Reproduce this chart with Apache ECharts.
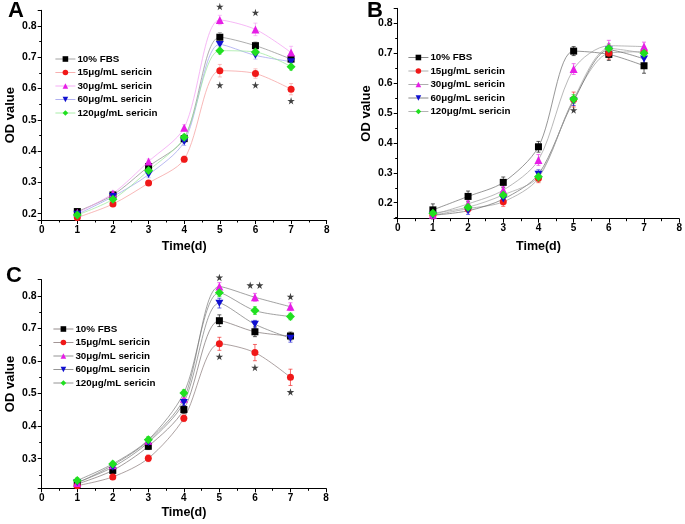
<!DOCTYPE html>
<html><head><meta charset="utf-8">
<script src="https://cdn.jsdelivr.net/npm/echarts@6/dist/echarts.min.js"></script>
<style>html,body{margin:0;padding:0;background:#fff}#c{width:685px;height:524px}</style>
</head><body><div id="c"></div>
<script>
// ---------- data ----------
const days = [1, 2, 3, 4, 5, 6, 7];
const seriesNames = ['10% FBS', '15μg/mL sericin', '30μg/mL sericin', '60μg/mL sericin', '120μg/mL sericin'];
const xTickLabels = ['0', '1', '2', '3', '4', '5', '6', '7', '8'];
const yTickLabels = ['0.2', '0.3', '0.4', '0.5', '0.6', '0.7', '0.8'];

// Panel A
const A_fbs  = [0.207, 0.260, 0.351, 0.440, 0.764, 0.737, 0.694];
const A_s15  = [0.188, 0.231, 0.298, 0.374, 0.657, 0.648, 0.598];
const A_s30  = [0.203, 0.265, 0.367, 0.475, 0.819, 0.789, 0.715];
const A_s60  = [0.198, 0.255, 0.325, 0.430, 0.741, 0.706, 0.686];
const A_s120 = [0.196, 0.246, 0.338, 0.444, 0.721, 0.717, 0.670];
const A_err_fbs  = [0.008, 0.008, 0.010, 0.012, 0.015, 0.012, 0.010];
const A_err_s15  = [0.008, 0.008, 0.008, 0.010, 0.020, 0.015, 0.018];
const A_err_s30  = [0.008, 0.008, 0.008, 0.010, 0.015, 0.020, 0.020];
const A_err_s60  = [0.008, 0.008, 0.010, 0.012, 0.015, 0.012, 0.012];
const A_err_s120 = [0.008, 0.008, 0.010, 0.010, 0.012, 0.012, 0.012];
const A_stars = [[5, 0.862], [6, 0.843], [5, 0.611], [6, 0.611], [7, 0.561]];

// Panel B
const B_fbs  = [0.176, 0.221, 0.268, 0.387, 0.707, 0.696, 0.658];
const B_s15  = [0.158, 0.180, 0.203, 0.282, 0.545, 0.700, 0.705];
const B_s30  = [0.160, 0.196, 0.242, 0.343, 0.647, 0.725, 0.722];
const B_s60  = [0.158, 0.173, 0.212, 0.295, 0.540, 0.711, 0.681];
const B_s120 = [0.165, 0.185, 0.226, 0.287, 0.547, 0.716, 0.700];
const B_err_fbs  = [0.020, 0.018, 0.018, 0.018, 0.015, 0.020, 0.025];
const B_err_s15  = [0.012, 0.012, 0.015, 0.015, 0.025, 0.020, 0.015];
const B_err_s30  = [0.012, 0.012, 0.012, 0.018, 0.018, 0.018, 0.015];
const B_err_s60  = [0.012, 0.012, 0.012, 0.015, 0.015, 0.015, 0.015];
const B_err_s120 = [0.012, 0.012, 0.012, 0.015, 0.015, 0.015, 0.012];
const B_stars = [[5, 0.51]];

// Panel C
const C_fbs  = [0.222, 0.264, 0.338, 0.451, 0.724, 0.690, 0.677];
const C_s15  = [0.217, 0.244, 0.301, 0.424, 0.653, 0.626, 0.550];
const C_s30  = [0.225, 0.280, 0.355, 0.484, 0.829, 0.796, 0.767];
const C_s60  = [0.227, 0.274, 0.350, 0.473, 0.778, 0.713, 0.670];
const C_s120 = [0.233, 0.284, 0.358, 0.502, 0.810, 0.755, 0.737];
const C_err_fbs  = [0.008, 0.010, 0.010, 0.012, 0.018, 0.015, 0.012];
const C_err_s15  = [0.008, 0.008, 0.010, 0.010, 0.020, 0.025, 0.025];
const C_err_s30  = [0.008, 0.008, 0.010, 0.010, 0.012, 0.012, 0.012];
const C_err_s60  = [0.008, 0.008, 0.010, 0.010, 0.015, 0.012, 0.012];
const C_err_s120 = [0.008, 0.008, 0.010, 0.010, 0.012, 0.012, 0.010];
const C_stars = [[5, 0.857], [5, 0.614], [6, 0.580], [7, 0.798], [7, 0.505]];
const C_doubleStars = [[6, 0.833]];

// ---------- styles ----------
const FONT = '"Liberation Sans", Arial, sans-serif';
const markColors = ['#000000', '#f01818', '#e61ee6', '#1010d0', '#20e020'];
const lineColorsA = ['#8a8a8a', '#f59a9a', '#f29af2', '#9c9cec', '#96e896'];
const lineColorsB = ['#6a6a6a', '#999999', '#999999', '#6a6a6a', '#a0a0a0'];
const lineColorsC = ['#7a7070', '#8a7a7a', '#7a7a7a', '#7a7a7a', '#7a7a7a'];
const symbols = ['rect', 'circle', 'triangle', 'path://M0,0 L10,0 L5,9 Z', 'diamond'];
const symbolSizes = [7, 7, 8, [8, 7], 9];
const STAR = 'path://M50,0 L61,35 L98,35 L68,57 L79,91 L50,70 L21,91 L32,57 L2,35 L39,35 Z';
const DSTAR = 'path://M50,0 L61,35 L98,35 L68,57 L79,91 L50,70 L21,91 L32,57 L2,35 L39,35 Z M170,0 L181,35 L218,35 L188,57 L199,91 L170,70 L141,91 L152,57 L122,35 L159,35 Z';

const panels = [
  { key: 'A', data: [A_fbs, A_s15, A_s30, A_s60, A_s120],
    err: [A_err_fbs, A_err_s15, A_err_s30, A_err_s60, A_err_s120],
    stars: A_stars, dstars: [], lineColors: lineColorsA,
    grid: { left: 41.7, top: 10.3, width: 285, height: 209.7 }, ymin: 0.18, ymax: 0.85,
    legend: { left: 55, top: 54 }, xNameGap: 20, suffix: '' },
  { key: 'B', data: [B_fbs, B_s15, B_s30, B_s60, B_s120],
    err: [B_err_fbs, B_err_s15, B_err_s30, B_err_s60, B_err_s120],
    stars: B_stars, dstars: [], lineColors: lineColorsB,
    grid: { left: 397.7, top: 8.35, width: 283, height: 210.35 }, ymin: 0.1465, ymax: 0.85,
    legend: { left: 408, top: 52.5 }, xNameGap: 21, suffix: '\u200b' },
  { key: 'C', data: [C_fbs, C_s15, C_s30, C_s60, C_s120],
    err: [C_err_fbs, C_err_s15, C_err_s30, C_err_s60, C_err_s120],
    stars: C_stars, dstars: C_doubleStars, lineColors: lineColorsC,
    grid: { left: 41.7, top: 279.7, width: 284.3, height: 208.6 }, ymin: 0.209, ymax: 0.85,
    legend: { left: 53, top: 324 }, xNameGap: 18, suffix: '\u200b\u200b' }
];

const grids = [], xAxes = [], yAxes = [], series = [], legends = [], graphics = [];
const letterPos = { A: [8, 0], B: [367, 0], C: [6, 265] };

panels.forEach((p, gi) => {
  grids.push(Object.assign({ containLabel: false }, p.grid));
  xAxes.push({
    type: 'value', gridIndex: gi, min: 0, max: 8, interval: 1,
    name: 'Time(d)', nameLocation: 'middle', nameGap: p.xNameGap,
    nameTextStyle: { fontFamily: FONT, fontWeight: 'bold', fontSize: 12.5, color: '#000' },
    axisLine: { show: true, onZero: false, lineStyle: { color: '#000', width: 1 } },
    axisTick: { show: true, inside: false, length: 4, lineStyle: { color: '#000' } },
    minorTick: { show: true, splitNumber: 2, length: 2.5, lineStyle: { color: '#000' } },
    splitLine: { show: false },
    axisLabel: { fontFamily: FONT, fontWeight: 'bold', fontSize: 10, color: '#000', margin: 5,
      formatter: v => { const s = String(Math.round(v)); return xTickLabels.indexOf(s) >= 0 ? s : ''; } }
  });
  yAxes.push({
    type: 'value', gridIndex: gi, min: p.ymin, max: p.ymax, splitNumber: 7,
    name: 'OD value', nameLocation: 'middle', nameGap: 25, nameRotate: 90,
    nameTextStyle: { fontFamily: FONT, fontWeight: 'bold', fontSize: 13, color: '#000' },
    axisLine: { show: true, onZero: false, lineStyle: { color: '#000', width: 1 } },
    axisTick: { show: true, inside: false, length: 4, lineStyle: { color: '#000' } },
    minorTick: { show: true, splitNumber: 2, length: 2.5, lineStyle: { color: '#000' } },
    splitLine: { show: false },
    axisLabel: { fontFamily: FONT, fontWeight: 'bold', fontSize: 10.5, color: '#000', margin: 5,
      showMinLabel: false, showMaxLabel: false,
      formatter: v => { const s = v.toFixed(1); return (Math.abs(v * 10 - Math.round(v * 10)) < 1e-6 && yTickLabels.indexOf(s) >= 0) ? s : ''; } }
  });

  const names = seriesNames.map(n => n + p.suffix);
  // error bars
  p.data.forEach((vals, si) => {
    series.push({
      type: 'custom', name: 'err' + p.key + si, xAxisIndex: gi, yAxisIndex: gi, z: 2, silent: true,
      data: days.map((d, i) => [d, vals[i], p.err[si][i]]),
      renderItem: (params, api) => {
        const x = api.value(0), y = api.value(1), e = api.value(2);
        const top = api.coord([x, y + e]), bot = api.coord([x, y - e]);
        const cap = 2;
        const st = { stroke: p.lineColors === lineColorsA ? lineColorsA[si] : markColors[si], lineWidth: 0.8, opacity: 0.8 };
        return { type: 'group', children: [
          { type: 'line', shape: { x1: top[0], y1: top[1], x2: bot[0], y2: bot[1] }, style: st },
          { type: 'line', shape: { x1: top[0] - cap, y1: top[1], x2: top[0] + cap, y2: top[1] }, style: st },
          { type: 'line', shape: { x1: bot[0] - cap, y1: bot[1], x2: bot[0] + cap, y2: bot[1] }, style: st }
        ] };
      }
    });
  });
  // lines
  p.data.forEach((vals, si) => {
    series.push({
      type: 'line', name: names[si], xAxisIndex: gi, yAxisIndex: gi, z: 3,
      data: days.map((d, i) => [d, vals[i]]),
      smooth: 0.3, symbol: symbols[si], symbolSize: symbolSizes[si], showAllSymbol: true,
      itemStyle: { color: markColors[si], borderWidth: 0 },
      lineStyle: { color: p.lineColors[si], width: 0.7 },
      emphasis: { disabled: true }, animation: false
    });
  });
  // significance stars
  series.push({
    type: 'scatter', name: 'stars' + p.key, xAxisIndex: gi, yAxisIndex: gi, z: 4, clip: false,
    symbol: STAR, symbolSize: 7.5, itemStyle: { color: '#111' }, silent: true,
    data: p.stars
  });
  if (p.dstars.length) {
    series.push({
      type: 'scatter', name: 'dstars' + p.key, xAxisIndex: gi, yAxisIndex: gi, z: 4, clip: false,
      symbol: DSTAR, symbolSize: [17, 7.5], itemStyle: { color: '#111' }, silent: true,
      data: p.dstars
    });
  }
  legends.push({
    data: names, orient: 'vertical', left: p.legend.left, top: p.legend.top,
    itemWidth: 20, itemHeight: 7, itemGap: 3.5, padding: 0, selectedMode: false,
    lineStyle: { width: 0.8 },
    textStyle: { fontFamily: FONT, fontWeight: 'bold', fontSize: 9.8, color: '#000', padding: [0, 0, 0, -3] }
  });
  graphics.push({ type: 'text', left: letterPos[p.key][0], top: letterPos[p.key][1],
    style: { text: p.key, fontFamily: FONT, fontWeight: 'bold', fontSize: 22, fill: '#000' } });
});

const chart = echarts.init(document.getElementById('c'), null, { renderer: 'canvas' });
chart.setOption({
  animation: false, backgroundColor: '#fff',
  grid: grids, xAxis: xAxes, yAxis: yAxes, series: series, legend: legends, graphic: graphics
});
</script></body></html>
